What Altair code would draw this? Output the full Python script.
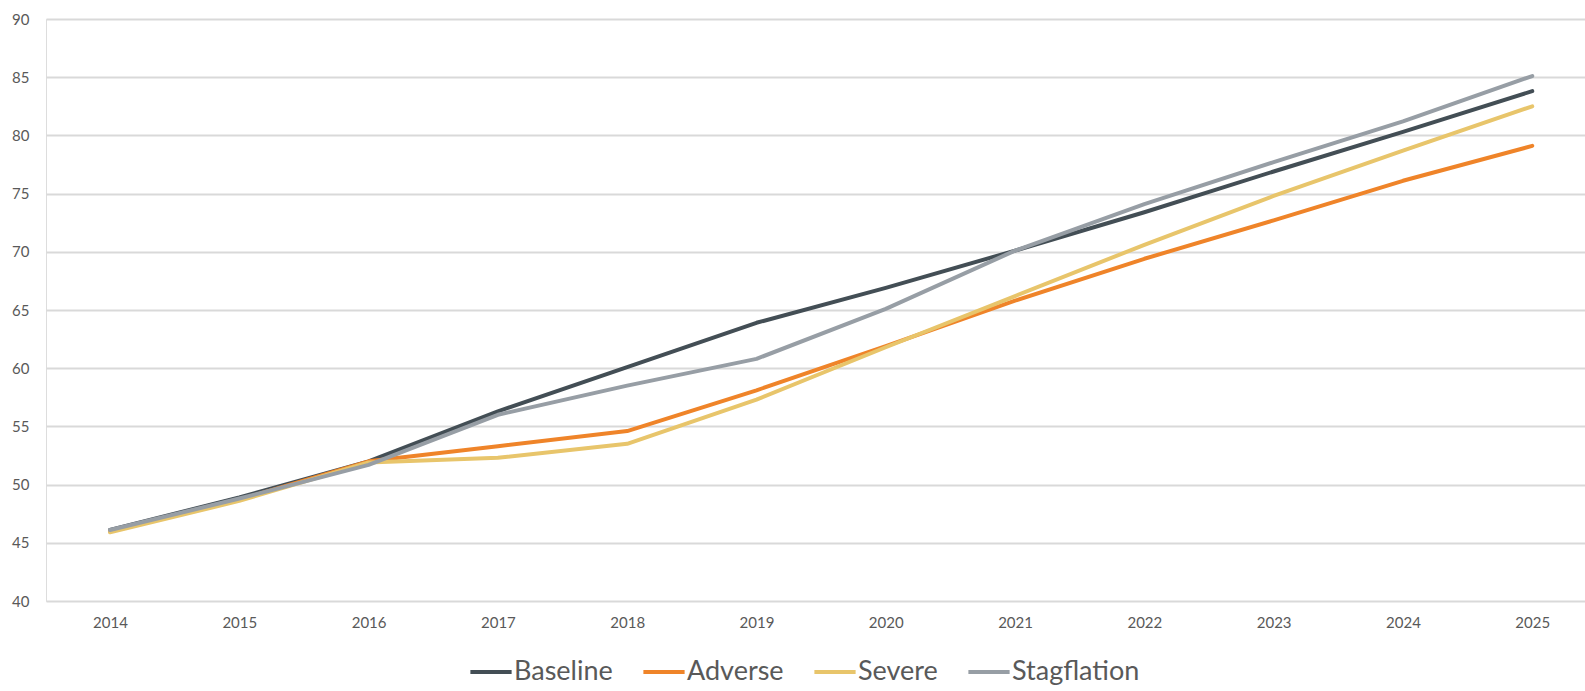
import altair as alt
import pandas as pd

# Index values per scenario, 2014-2025
years = [2014, 2015, 2016, 2017, 2018, 2019, 2020, 2021, 2022, 2023, 2024, 2025]
baseline = [46.1, 48.9, 52.0, 56.3, 60.1, 63.9, 66.9, 70.1, 73.4, 76.9, 80.3, 83.8]
adverse = [46.0, 48.7, 52.0, 53.3, 54.6, 58.1, 61.9, 65.8, 69.4, 72.7, 76.1, 79.1]
severe = [45.9, 48.6, 51.9, 52.3, 53.5, 57.3, 61.8, 66.2, 70.6, 74.8, 78.7, 82.5]
stagflation = [46.1, 48.8, 51.7, 56.0, 58.5, 60.8, 65.1, 70.1, 74.1, 77.7, 81.2, 85.1]

scenarios = ["Baseline", "Adverse", "Severe", "Stagflation"]
colors = ["#434e55", "#ef8429", "#e8c56b", "#979ea5"]
y_ticks = [40, 45, 50, 55, 60, 65, 70, 75, 80, 85, 90]

rows = []
for name, vals in zip(scenarios, [baseline, adverse, severe, stagflation]):
    for yr, v in zip(years, vals):
        rows.append({"Year": yr, "Value": v, "Scenario": name,
                     "rank": scenarios.index(name)})
df = pd.DataFrame(rows)

FONT = "Lato"
TEXT = "#595959"

chart = (
    alt.Chart(df)
    .mark_line(strokeWidth=4, strokeCap="round", strokeJoin="round")
    .encode(
        x=alt.X(
            "Year:Q",
            scale=alt.Scale(domain=[2013.505, 2025.408], nice=False, zero=False),
            axis=alt.Axis(
                values=years, format="d", title=None, grid=False, domain=False,
                ticks=False, labelPadding=14, labelFontSize=15, labelColor=TEXT,
                labelFont=FONT,
            ),
        ),
        y=alt.Y(
            "Value:Q",
            scale=alt.Scale(domain=[40, 90], nice=False, zero=False),
            axis=alt.Axis(
                values=y_ticks, title=None, domain=False, ticks=False,
                labelPadding=17, labelFontSize=15, labelColor=TEXT,
                labelFont=FONT, gridColor="#d9d9d9", gridWidth=2,
            ),
        ),
        color=alt.Color(
            "Scenario:N",
            sort=scenarios,
            scale=alt.Scale(domain=scenarios, range=colors),
            legend=alt.Legend(
                title=None, orient="none", direction="horizontal",
                legendX=422, legendY=630, symbolType="stroke",
                symbolSize=1700, symbolStrokeWidth=4, labelFontSize=27,
                labelColor=TEXT, labelFont=FONT, labelOffset=0,
                columnPadding=22,
            ),
        ),
        order=alt.Order("rank:Q"),
    )
    .properties(
        width=1539,
        height=582,
        autosize=alt.AutoSizeParams(type="none"),
        padding={"left": 46, "top": 19, "right": 0, "bottom": 90},
    )
    .configure_view(stroke=None)
    .configure(background="white")
)

chart.save("out.html", embed_options={"renderer": "svg", "actions": False})
